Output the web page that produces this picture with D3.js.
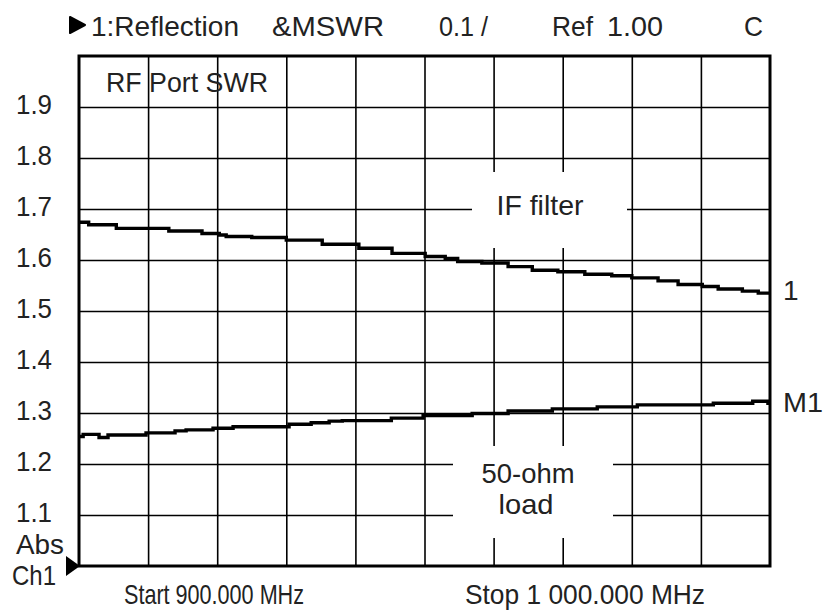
<!DOCTYPE html>
<html>
<head>
<meta charset="utf-8">
<script src="https://cdn.jsdelivr.net/npm/d3@7"></script>
<style>
  body { margin: 0; background: #fff; }
  svg text { font-family: "Liberation Sans", Arial, sans-serif; fill: #222; }
</style>
</head>
<body>
<svg width="825" height="610"></svg>
<script>
// Trace 1: IF filter (frequency in MHz, SWR)
const ifFreq = [900.0, 901.4, 905.4, 913.0, 917.8, 920.3, 921.3, 925.0, 930.0, 935.2, 940.5, 945.3, 950.1, 953.0,
                954.8, 958.3, 962.1, 965.6, 969.3, 973.2, 977.1, 980.0, 983.8, 986.7, 990.2, 992.5, 996.0, 998.3, 1000.0];
const ifSwr  = [1.674, 1.669, 1.662, 1.657, 1.652, 1.649, 1.646, 1.644, 1.639, 1.631, 1.623, 1.613, 1.607, 1.603,
                1.597, 1.594, 1.587, 1.580, 1.577, 1.572, 1.569, 1.565, 1.559, 1.552, 1.548, 1.543, 1.539, 1.535, 1.535];

// Trace M1: 50-ohm load
const loadFreq = [900.0, 900.6, 902.9, 904.2, 909.7, 913.9, 915.5, 919.4, 922.3, 930.4, 933.6, 936.2, 938.1,
                  945.2, 949.8, 956.9, 962.1, 968.5, 975.0, 980.8, 991.8, 997.5, 999.7, 1000.0];
const loadSwr  = [1.254, 1.258, 1.252, 1.257, 1.261, 1.265, 1.267, 1.270, 1.273, 1.278, 1.281, 1.284, 1.285,
                  1.290, 1.295, 1.299, 1.304, 1.308, 1.312, 1.316, 1.319, 1.323, 1.319, 1.319];

const yTicks = [1.1, 1.2, 1.3, 1.4, 1.5, 1.6, 1.7, 1.8, 1.9];
const xGrid = [910, 920, 930, 940, 950, 960, 970, 980, 990];

const plot = { left: 79, right: 770, top: 56, bottom: 566 };
const svg = d3.select("svg");

const x = d3.scaleLinear().domain([900, 1000]).range([plot.left, plot.right]);
const y = d3.scaleLinear().domain([1.0, 2.0]).range([plot.bottom, plot.top]);

// Grid lines
svg.append("g")
    .attr("transform", `translate(0,${plot.bottom})`)
    .call(d3.axisBottom(x).tickValues(xGrid).tickSize(-(plot.bottom - plot.top)).tickFormat(""))
    .call(g => g.select(".domain").remove())
    .selectAll("line").attr("stroke", "#000").attr("stroke-width", 1.6);

svg.append("g")
    .attr("transform", `translate(${plot.left},0)`)
    .call(d3.axisLeft(y).tickValues(yTicks).tickSize(-(plot.right - plot.left)).tickFormat(""))
    .call(g => g.select(".domain").remove())
    .selectAll("line").attr("stroke", "#000").attr("stroke-width", 1.6);

// White boxes behind in-plot labels
svg.append("rect").attr("x", 472).attr("y", 172).attr("width", 155).attr("height", 76).attr("fill", "#fff");
svg.append("rect").attr("x", 453).attr("y", 446).attr("width", 160).attr("height", 92).attr("fill", "#fff");

// Y tick labels (condensed face, like the analyzer screen)
svg.append("g")
    .attr("transform", `translate(${plot.left},0)`)
    .call(d3.axisLeft(y).tickValues(yTicks).tickSize(0).tickPadding(27).tickFormat(d3.format(".1f")))
    .call(g => g.select(".domain").remove())
    .selectAll("text")
    .attr("dy", "0.24em")
    .attr("textLength", 36)
    .attr("lengthAdjust", "spacingAndGlyphs")
    .style("font-size", "28px")
    .style("font-family", "'Liberation Sans', Arial, sans-serif")
    .attr("fill", "#222");

// Traces
const line = d3.line().x(d => x(d[0])).y(d => y(d[1])).curve(d3.curveStepAfter);
[[ifFreq, ifSwr], [loadFreq, loadSwr]].forEach(([f, s]) => {
  svg.append("path")
      .datum(f.map((v, i) => [v, s[i]]))
      .attr("d", line)
      .attr("fill", "none")
      .attr("stroke", "#000")
      .attr("stroke-width", 3.4);
});

// Frame
svg.append("rect")
    .attr("x", plot.left).attr("y", plot.top)
    .attr("width", plot.right - plot.left).attr("height", plot.bottom - plot.top)
    .attr("fill", "none").attr("stroke", "#000").attr("stroke-width", 3);

// Texts, squeezed to the widths of the condensed screen font
function label(tx, ty, str, w, anchor) {
  const t = svg.append("text").attr("x", tx).attr("y", ty)
      .attr("text-anchor", anchor || "start")
      .style("font-size", "28px")
      .text(str);
  if (w) t.attr("textLength", w).attr("lengthAdjust", "spacingAndGlyphs");
}
label(91, 36, "1:Reflection", 148);
label(272, 36, "&MSWR", 112);
label(439, 36, "0.1 /", 49);
label(552, 36, "Ref", 41);
label(607, 36, "1.00", 56);
label(744, 36, "C", 19);
label(106, 92, "RF Port SWR", 162);
label(540, 215, "IF filter", 87, "middle");
label(528, 483, "50-ohm", 93, "middle");
label(526, 514, "load", 55, "middle");
label(783, 300, "1");
label(783, 412, "M1", 40);
label(16, 554, "Abs", 48);
label(12, 585, "Ch1", 44);
label(124, 604, "Start 900.000 MHz", 180);
label(465, 604, "Stop 1 000.000 MHz", 240);

// Markers
svg.append("path").attr("d", "M70,17 L85,25 L70,33 Z").attr("fill", "#000").attr("stroke", "#000").attr("stroke-linejoin", "round").attr("stroke-width", 2);
svg.append("path").attr("d", "M66,556 L80,566 L66,576 Z").attr("fill", "#000");
</script>
</body>
</html>
